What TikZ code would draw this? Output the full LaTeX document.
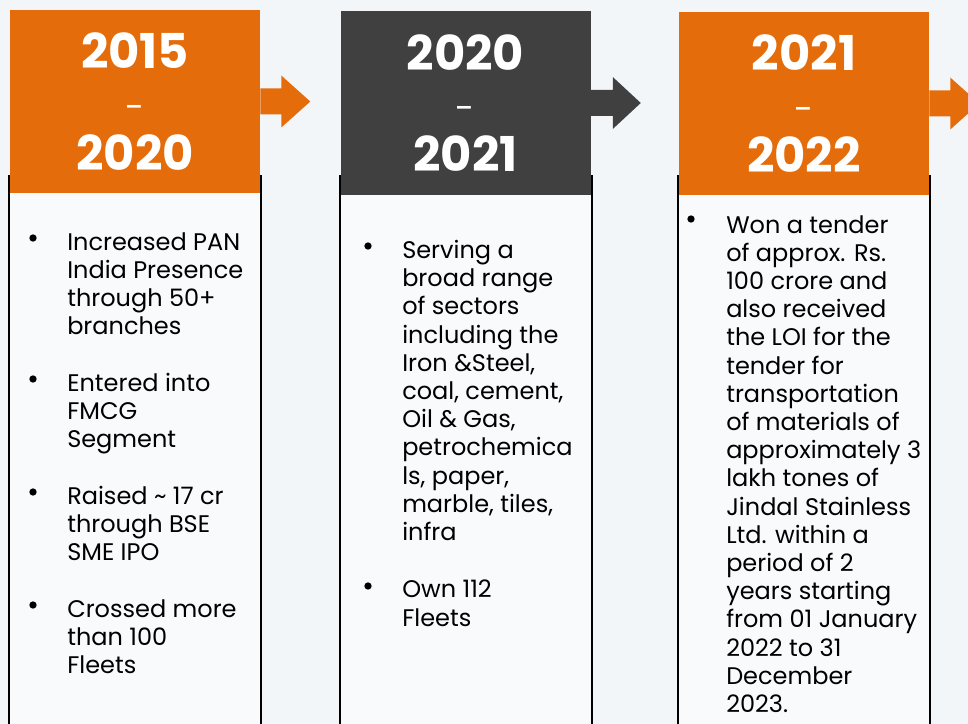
\documentclass[tikz,border=0pt]{standalone}
\usepackage{fontspec}
\setmainfont{Poppins}
\usetikzlibrary{positioning}
\definecolor{hdrorange}{HTML}{E46C0A}
\definecolor{hdrgray}{HTML}{404040}
\definecolor{pagebg}{HTML}{F3F6F9}
\definecolor{boxbg}{HTML}{F8FAFC}
\tikzset{
  header/.style={rectangle, minimum width=187.5pt, minimum height=137.25pt, inner sep=0pt,
    text=white, align=center, font=\fontsize{36}{38}\selectfont\bfseries},
  column/.style={rectangle, draw=black, line width=1.5pt, fill=boxbg, inner sep=0pt,
    minimum width=189pt, minimum height=423pt},
  item/.style={anchor=north west, align=left, inner sep=0pt, font=\fontsize{18}{21.15}\selectfont},
  bulletdot/.style={circle, fill=black, inner sep=0pt, minimum size=5.5pt},
}
\newcommand{\yrdash}{{\mdseries\fontsize{26}{38}\selectfont -}}
\begin{document}
\begin{tikzpicture}[x=0.75pt, y=-0.75pt]
        \clip (0,0) rectangle (968,724);
        \fill[pagebg] (0,0) rectangle (968,724);

        % Columns
        \node[column] (c1) at (135,458) {};
        \node[column] (c2) at (465.5,458) {};
        \node[column] (c3) at (804,458) {};

        % Headers
        \node[header, fill=hdrorange] (h1) at (135,101.5) {2015\\\yrdash\\2020};
        \node[header, fill=hdrgray] (h2) at (465.5,103) {2020\\\yrdash\\2021};
        \node[header, fill=hdrorange] (h3) at (804,103.5) {2021\\\yrdash\\2022};

        % Arrows
        \fill[hdrorange] (h1.east) ++(0,-13) -- ++(21,0) -- ++(0,-13) -- ++(29,26) -- ++(-29,26) -- ++(0,-13) -- ++(-21,0) -- cycle;
        \fill[hdrgray] (h2.east) ++(0,-13) -- ++(22,0) -- ++(0,-13) -- ++(28,26) -- ++(-28,26) -- ++(0,-13) -- ++(-22,0) -- cycle;
        \fill[hdrorange] (h3.east) ++(0,-13) -- ++(21,0) -- ++(0,-13) -- ++(29,26) -- ++(-29,26) -- ++(0,-13) -- ++(-21,0) -- cycle;

        % 2015 - 2020
        \node[bulletdot] (b11) at (33,238) {};
        \node[item] (i11) at (67,232) {Increased PAN\\India Presence\\through 50+\\branches};
        \node[bulletdot] (b12) at (33,379) {};
        \node[item] (i12) at (67,373) {Entered into\\FMCG\\Segment};
        \node[bulletdot] (b13) at (33,492) {};
        \node[item] (i13) at (67,486) {Raised \textasciitilde{} 17 cr\\through BSE\\SME IPO};
        \node[bulletdot] (b14) at (33,605) {};
        \node[item] (i14) at (67,599) {Crossed more\\than 100\\Fleets};

        % 2020 - 2021
        \node[bulletdot] (b21) at (368,246) {};
        \node[item] (i21) at (402,240) {Serving a\\broad range\\of sectors\\including the\\Iron \&Steel,\\coal, cement,\\Oil \& Gas,\\petrochemica\\ls, paper,\\marble, tiles,\\infra};
        \node[bulletdot] (b22) at (368,586) {};
        \node[item] (i22) at (402,580) {Own 112\\Fleets};

        % 2021 - 2022
        \node[bulletdot] (b31) at (691,219) {};
        \node[item] (i31) at (726,215) {Won a tender\\of approx. Rs.\\100 crore and\\also received\\the LOI for the\\tender for\\transportation\\of materials of\\approximately 3\\lakh tones of\\Jindal Stainless\\Ltd. within a\\period of 2\\years starting\\from 01 January\\2022 to 31\\December\\2023.};
    \end{tikzpicture}
\end{document}
